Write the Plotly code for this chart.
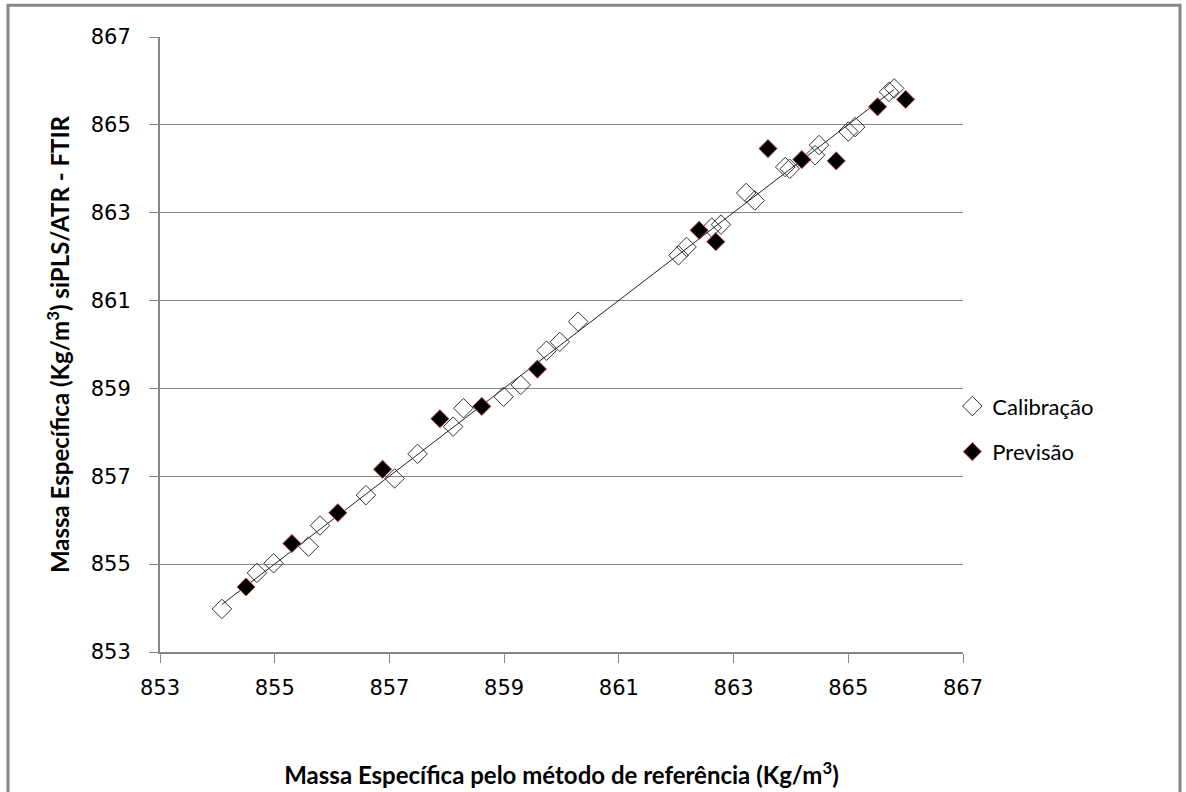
import numpy as np
import plotly.graph_objects as go

# Calibration (open diamonds)
cal_x = [854.08, 854.69, 854.98, 855.59, 855.79, 856.59, 857.09, 857.49, 858.11, 858.29,
         858.99, 859.29, 859.74, 859.97, 860.29, 862.04, 862.18, 862.62, 862.78, 863.22,
         863.37, 863.90, 863.98, 864.42, 864.49, 865.00, 865.12, 865.71, 865.80]
cal_y = [853.98, 854.80, 855.02, 855.40, 855.88, 856.57, 856.95, 857.51, 858.13, 858.55,
         858.81, 859.08, 859.86, 860.06, 860.52, 862.03, 862.22, 862.66, 862.73, 863.45,
         863.28, 864.04, 864.00, 864.31, 864.54, 864.85, 864.95, 865.75, 865.83]

# Prediction (filled diamonds)
prev_x = [854.50, 855.30, 856.10, 856.88, 857.88, 858.61, 859.58, 862.40, 862.69, 863.60,
          864.19, 864.79, 865.51, 866.00]
prev_y = [854.48, 855.47, 856.17, 857.16, 858.31, 858.59, 859.44, 862.60, 862.34, 864.46,
          864.21, 864.18, 865.41, 865.58]

tick_vals = [853, 855, 857, 859, 861, 863, 865, 867]
tick_text = ["853", "855", "857", "859", "861", "863", "865", "867"]

# linear trendline of calibration
slope, intercept = np.polyfit(cal_x, cal_y, 1)
tx = np.array([min(cal_x), max(cal_x)])
ty = slope * tx + intercept

fig = go.Figure()
fig.add_trace(go.Scatter(x=tx, y=ty, mode="lines", line=dict(color="#222222", width=1),
                         showlegend=False, hoverinfo="skip"))
fig.add_trace(go.Scatter(x=cal_x, y=cal_y, mode="markers", name="Calibração",
                         legendgroup="a",
                         marker=dict(symbol="diamond-open", size=15, color="#333333",
                                     line=dict(width=1, color="#333333"))))
fig.add_trace(go.Scatter(x=prev_x, y=prev_y, mode="markers", name="Previsão",
                         legendgroup="b",
                         marker=dict(symbol="diamond", size=14, color="black",
                                     line=dict(width=1, color="#c0504d"))))

GRAY = "#868686"
fig.update_layout(
    width=1186, height=792,
    margin=dict(l=160, r=223, t=37, b=140, autoexpand=False),
    paper_bgcolor="white", plot_bgcolor="white",
    font=dict(family="DejaVu Sans", color="black"),
    showlegend=True,
    legend=dict(xref="container", yref="container", x=0.803, y=0.458,
                xanchor="left", yanchor="middle", tracegroupgap=14,
                font=dict(family="Lato", size=22, color="black"),
                itemwidth=30, bgcolor="rgba(0,0,0,0)"),
    xaxis=dict(range=[853, 867], tickmode="array", tickvals=tick_vals, ticktext=tick_text,
               showgrid=False, zeroline=False, showline=True, linecolor=GRAY, linewidth=2,
               ticks="outside", ticklen=9, tickcolor=GRAY, tickwidth=1,
               ticklabelstandoff=7,
               tickfont=dict(family="DejaVu Sans", size=21, color="black"),
               title=dict(text="Massa Específica pelo método de referência (Kg/m<sup>3</sup>)",
                          font=dict(family="Lato", size=24, color="black", weight="bold"),
                          standoff=68)),
    yaxis=dict(range=[853, 867], tickmode="array", tickvals=tick_vals, ticktext=tick_text,
               showgrid=True, gridcolor=GRAY, gridwidth=1, zeroline=False,
               showline=True, linecolor=GRAY, linewidth=2,
               ticks="outside", ticklen=9, tickcolor=GRAY, tickwidth=1,
               ticklabelstandoff=14,
               tickfont=dict(family="DejaVu Sans", size=21, color="black"),
               title=dict(text="Massa Específica (Kg/m<sup>3</sup>) siPLS/ATR - FTIR",
                          font=dict(family="Lato", size=24, color="black", weight="bold"),
                          standoff=14)),
)

# outer chart border
fig.add_shape(type="rect", xref="paper", yref="paper",
              x0=(8 - 160) / 803, x1=(1180 - 160) / 803,
              y0=(652.3 - 800) / 615.6, y1=(652.3 - 5) / 615.6,
              line=dict(color=GRAY, width=3), fillcolor="rgba(0,0,0,0)", layer="below")

fig.write_html("out.html")
